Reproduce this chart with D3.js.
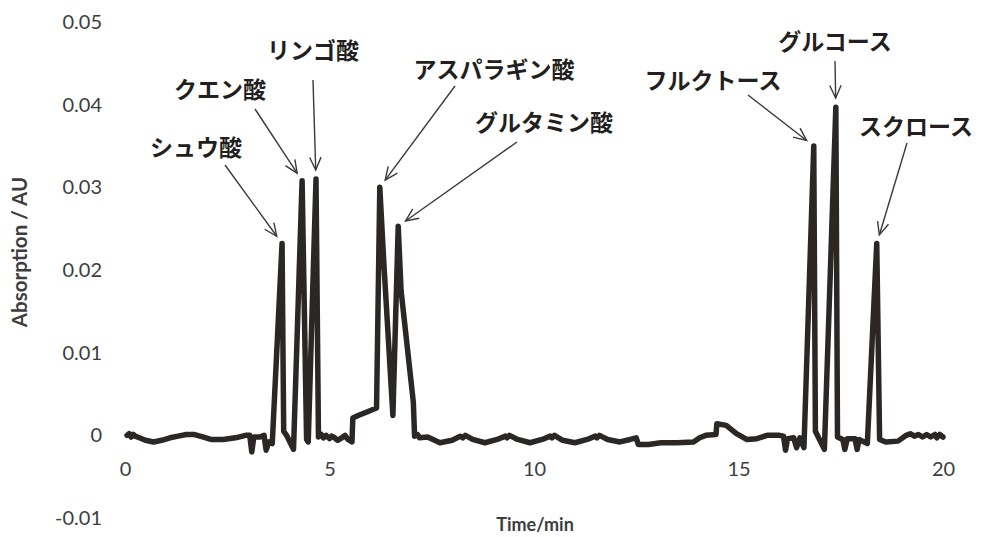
<!DOCTYPE html>
<html><head><meta charset="utf-8">
<script src="https://cdn.jsdelivr.net/npm/d3@7"></script>
<style>
html,body{margin:0;padding:0;background:#fff;}
svg{display:block;}
</style></head>
<body>
<svg id="chart" width="981" height="537"></svg>
<script>
// ---- data ----
const times = [0.05,0.1,0.15,0.2,0.25,0.35,0.5,0.7,0.9,1.1,1.3,1.5,1.7,1.9,2.1,2.4,2.7,2.95,3.05,3.1,3.15,3.3,3.4,3.45,3.52,3.6,3.84,3.88,3.95,4.12,4.33,4.44,4.48,4.67,4.73,4.8,4.85,4.92,5.0,5.05,5.1,5.2,5.3,5.38,5.45,5.55,5.57,5.7,5.9,6.15,6.23,6.33,6.55,6.68,6.75,7.05,7.08,7.15,7.2,7.4,7.7,8.0,8.2,8.26,8.32,8.5,8.8,9.1,9.3,9.34,9.4,9.6,9.9,10.2,10.4,10.44,10.5,10.7,11.0,11.3,11.5,11.54,11.6,11.8,12.1,12.35,12.5,12.55,12.8,13.1,13.5,13.9,14.05,14.2,14.45,14.47,14.7,14.95,15.2,15.45,15.7,16.0,16.1,16.15,16.2,16.35,16.42,16.5,16.6,16.84,16.88,17.1,17.38,17.42,17.55,17.6,17.66,17.85,17.9,17.95,18.15,18.38,18.45,18.6,18.9,19.1,19.2,19.3,19.4,19.5,19.6,19.7,19.8,19.85,19.92,20.0];
const absorption = [0.0000,0.0002,-0.0002,0.0001,-0.0001,-0.0003,-0.0006,-0.0008,-0.0006,-0.0003,-0.0001,0.0001,0.0001,-0.0002,-0.0005,-0.0005,-0.0003,0.0000,0.0000,-0.0020,-0.0002,-0.0002,0.0000,-0.0018,-0.0008,-0.0010,0.0232,0.0005,0.0000,-0.0017,0.0308,-0.0005,-0.0008,0.0310,-0.0002,0.0001,-0.0003,0.0000,-0.0004,-0.0001,-0.0002,-0.0006,-0.0003,0.0000,-0.0005,-0.0008,0.0021,0.0024,0.0028,0.0033,0.0300,0.0207,0.0024,0.0253,0.0175,0.0040,-0.0001,0.0001,-0.0003,-0.0002,-0.0009,-0.0006,-0.0001,-0.0003,0.0000,-0.0005,-0.0009,-0.0005,-0.0001,-0.0003,0.0000,-0.0005,-0.0009,-0.0005,-0.0001,-0.0003,0.0000,-0.0006,-0.0009,-0.0005,-0.0001,-0.0003,0.0000,-0.0005,-0.0008,-0.0005,-0.0003,-0.0011,-0.0011,-0.0009,-0.0009,-0.0008,-0.0003,0.0000,0.0001,0.0014,0.0012,0.0002,-0.0005,-0.0004,0.0000,0.0000,-0.0001,-0.0018,-0.0004,-0.0003,-0.0015,-0.0003,-0.0015,0.0350,0.0005,-0.0017,0.0397,-0.0002,-0.0005,-0.0017,-0.0004,-0.0004,-0.0017,-0.0005,-0.0010,0.0232,-0.0005,-0.0008,-0.0007,0.0000,0.0002,-0.0001,0.0001,-0.0002,0.0001,-0.0002,0.0001,-0.0003,0.0001,-0.0002];

const peakNames = ["シュウ酸","クエン酸","リンゴ酸","アスパラギン酸","グルタミン酸","フルクトース","グルコース","スクロース"];
const peakTimes = [3.84,4.33,4.67,6.23,6.68,16.84,17.38,18.38];
const peakHeights = [0.0232,0.0308,0.0310,0.0300,0.0253,0.0350,0.0397,0.0232];

const xTicks = [0,5,10,15,20];
const yTicks = [-0.01,0,0.01,0.02,0.03,0.04,0.05];
const xTitle = "Time/min";
const yTitle = "Absorption / AU";

// ---- layout (annotation placement, px) ----
const labelPos = [[196,148],[220,90],[313,51],[494,70],[544,123],[713,81],[835,42],[916,127]];
const arrowStart = [[225,165],[255,109],[313,80],[455,86],[517,142],[748,95],[835,61],[907,143]];

const svg = d3.select("#chart");
const x = d3.scaleLinear().domain([0,20]).range([125,943]);
const y = d3.scaleLinear().domain([-0.01,0.05]).range([518,22]);

const tickFont = "Lato, 'Open Sans', sans-serif";
const tickColor = "#3d3d3d";

// y axis
const gy = svg.append("g").attr("transform","translate(125,0)")
  .call(d3.axisLeft(y).tickValues(yTicks).tickSize(0).tickPadding(23)
    .tickFormat(d => d===0 ? "0" : d.toFixed(2)));
gy.select(".domain").remove();
gy.selectAll("text").attr("font-family",tickFont).attr("font-size",20).attr("fill",tickColor);

// x axis
const gx = svg.append("g").attr("transform",`translate(0,${y(0)})`)
  .call(d3.axisBottom(x).tickValues(xTicks).tickSize(0).tickPadding(26).tickFormat(d => String(d)));
gx.select(".domain").remove();
gx.selectAll("text").attr("font-family",tickFont).attr("font-size",20).attr("fill",tickColor);

// titles
svg.append("text").attr("x",535).attr("y",531).attr("text-anchor","middle")
  .attr("font-family",tickFont).attr("font-weight","bold").attr("font-size",18).attr("fill","#3d3d3d")
  .text(xTitle);
svg.append("text").attr("transform","translate(27,252) rotate(-90)").attr("text-anchor","middle")
  .attr("font-family",tickFont).attr("font-weight","bold").attr("font-size",20.5).attr("fill","#3d3d3d")
  .text(yTitle);

// trace
const pts = times.map((t,i)=>[t,absorption[i]]);
svg.append("path").datum(pts)
  .attr("fill","none").attr("stroke","#2b2725").attr("stroke-width",5.5)
  .attr("stroke-linejoin","round").attr("stroke-linecap","round")
  .attr("d", d3.line().x(d=>x(d[0])).y(d=>y(d[1])));

// annotations
const ann = svg.append("g");
peakNames.forEach((name,i)=>{
  const px = x(peakTimes[i]), py = y(peakHeights[i]);
  const [sx,sy] = arrowStart[i];
  const dx = sx-px, dy = sy-py, L = Math.hypot(dx,dy);
  const ux = dx/L, uy = dy/L;
  const tx = px + ux*9, ty = py + uy*9;
  ann.append("line").attr("x1",sx).attr("y1",sy).attr("x2",tx).attr("y2",ty)
    .attr("stroke","#3a3a3a").attr("stroke-width",1.4);
  const ang = 24*Math.PI/180, hl = 14;
  const w1 = [tx + hl*(ux*Math.cos(ang) - uy*Math.sin(ang)), ty + hl*(ux*Math.sin(ang) + uy*Math.cos(ang))];
  const w2 = [tx + hl*(ux*Math.cos(-ang) - uy*Math.sin(-ang)), ty + hl*(ux*Math.sin(-ang) + uy*Math.cos(-ang))];
  ann.append("path").attr("d",`M${w1[0]},${w1[1]}L${tx},${ty}L${w2[0]},${w2[1]}`)
    .attr("fill","none").attr("stroke","#3a3a3a").attr("stroke-width",1.4);
  ann.append("text").attr("x",labelPos[i][0]).attr("y",labelPos[i][1]).attr("dy","0.35em")
    .attr("text-anchor","middle").attr("font-family","'Noto Sans CJK JP', sans-serif")
    .attr("font-weight","bold").attr("font-size",23).attr("fill","#231f20").text(name);
});
</script>
</body></html>
